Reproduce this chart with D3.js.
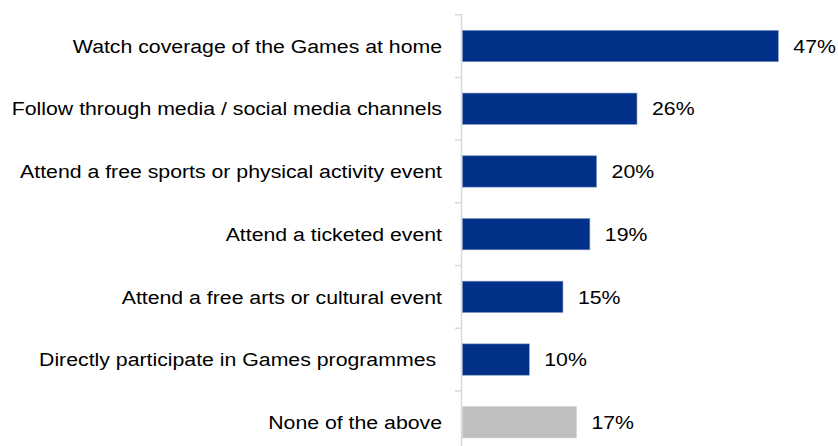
<!DOCTYPE html>
<html>
<head>
<meta charset="utf-8">
<script src="https://cdn.jsdelivr.net/npm/d3@7/dist/d3.min.js"></script>
<style>
  html, body { margin: 0; padding: 0; background: #fff; }
  svg { display: block; }
  text { font-family: "Liberation Sans", Arial, sans-serif; fill: #000; }
</style>
</head>
<body>
<svg id="chart" width="838" height="446"></svg>
<script>
// Share of respondents by planned way of engaging with the Games
const categories = [
  "Watch coverage of the Games at home",
  "Follow through media / social media channels",
  "Attend a free sports or physical activity event",
  "Attend a ticketed event",
  "Attend a free arts or cultural event",
  "Directly participate in Games programmes ",
  "None of the above"
];
const values = [47, 26, 20, 19, 15, 10, 17];
const barColors = ["#003087", "#003087", "#003087", "#003087", "#003087", "#003087", "#bfbfbf"];

const svg = d3.select("#chart");
const axisX = 462;
const fontSize = 19;
const stretch = 1.12; // wide glyph setting used by the labels

const x = d3.scaleLinear().domain([0, 47]).range([axisX, 778.3]);
const y = d3.scaleBand()
  .domain(categories)
  .range([14.7, 14.7 + 62.7 * categories.length])
  .paddingInner(0.5)
  .paddingOuter(0.25);

// vertical category axis with ticks between bands
const axisG = svg.append("g");
axisG.append("line")
  .attr("x1", axisX - 0.5).attr("x2", axisX - 0.5)
  .attr("y1", y.range()[0]).attr("y2", 446)
  .attr("stroke", "#d9d9d9").attr("stroke-width", 1.5);
const step = y.step();
d3.range(categories.length + 1).forEach(i => {
  const ty = y.range()[0] + i * step;
  axisG.append("line")
    .attr("x1", axisX - 7).attr("x2", axisX)
    .attr("y1", ty).attr("y2", ty)
    .attr("stroke", "#d9d9d9").attr("stroke-width", 1.5);
});

// bars
svg.append("g").selectAll("rect")
  .data(categories)
  .join("rect")
  .attr("x", x(0) + 0.5)
  .attr("y", d => y(d))
  .attr("width", (d, i) => x(values[i]) - x(0) - 0.5)
  .attr("height", y.bandwidth())
  .attr("fill", (d, i) => barColors[i])
  .attr("stroke", (d, i) => i < 6 ? "#7f98c6" : "#d0d0d0")
  .attr("stroke-width", 0.6);

// category labels
svg.append("g").selectAll("text")
  .data(categories)
  .join("text")
  .attr("transform", d => `translate(442,${y(d) + y.bandwidth() / 2}) scale(${stretch},1)`)
  .attr("dy", "0.35em")
  .attr("text-anchor", "end")
  .style("white-space", "pre")
  .attr("font-size", fontSize)
  .text(d => d);

// value labels
svg.append("g").selectAll("text")
  .data(categories)
  .join("text")
  .attr("transform", (d, i) => `translate(${x(values[i]) + 15},${y(d) + y.bandwidth() / 2}) scale(${stretch},1)`)
  .attr("dy", "0.35em")
  .attr("font-size", fontSize)
  .text((d, i) => values[i] + "%");
</script>
</body>
</html>
